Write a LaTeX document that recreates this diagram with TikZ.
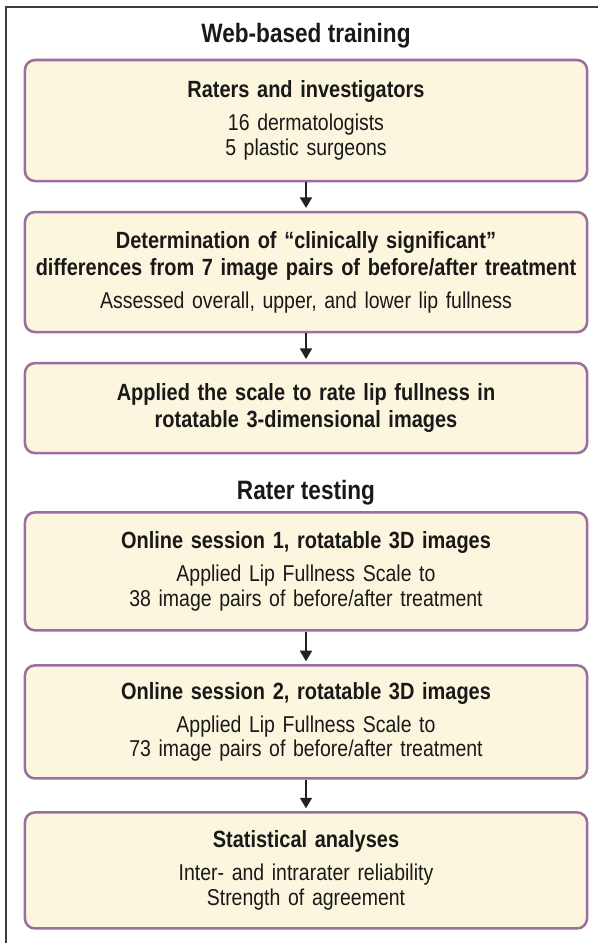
\documentclass[tikz,border=0pt]{standalone}
\usepackage{fontspec}
\setmainfont{Liberation Sans}[FakeStretch=0.85]
\usetikzlibrary{positioning, arrows.meta}

\definecolor{boxfill}{RGB}{252,246,222}
\definecolor{boxline}{RGB}{155,110,160}
\definecolor{arrowgray}{RGB}{34,34,34}
\definecolor{framegray}{RGB}{60,60,60}

\newcommand{\headfont}{\fontsize{18.9}{22}\selectfont\bfseries}
\newcommand{\titlefont}{\fontsize{16.7}{20}\selectfont\bfseries}
\newcommand{\bodyfont}{\fontsize{16.3}{17.5}\selectfont}

\tikzset{
    >={Triangle[length=7.5pt, width=8.5pt]}, % solid triangle heads
    stage/.style={draw=boxline, line width=1.8pt, fill=boxfill, rounded corners=0.25cm,
        text width=13.55cm, inner xsep=0.25cm, inner ysep=0pt, align=center,
        font=\bodyfont, text=black!90},
    heading/.style={font=\headfont, text=black!90},
    flow/.style={->, draw=arrowgray, line width=1.4pt, shorten >=2pt},
}

\begin{document}
\begin{tikzpicture}[x=0.025cm, y=-0.025cm]
    \useasboundingbox (0,0) rectangle (598,943);
    % frame along the top and left
    \draw[framegray, line width=1.4pt] (6,943) -- (6,7) -- (598,7);

    \node[heading] (web) at (306,36) {Web-based training};
    \node[stage, below of=web, node distance=2.1125cm, minimum height=3.025cm] (raters)
        {{\titlefont Raters and investigators}\\[6pt]
         16 dermatologists\\ 5 plastic surgeons};
    \node[stage, below of=raters, node distance=3.7875cm, minimum height=3cm] (determ)
        {{\titlefont Determination of \textquotedblleft clinically significant\textquotedblright}\\[1.5pt]
         {\titlefont differences from 7 image pairs of before/after treatment}\\[6pt]
         Assessed overall, upper, and lower lip fullness};
    \node[stage, below of=determ, node distance=3.4cm, minimum height=2.25cm] (applied)
        {{\titlefont Applied the scale to rate lip fullness in}\\[1.5pt]
         {\titlefont rotatable 3-dimensional images}};

    \node[heading, below of=applied, node distance=2.12cm] (testing) {Rater testing};
    \node[stage, below of=testing, node distance=1.96cm, minimum height=2.95cm] (session1)
        {{\titlefont Online session 1, rotatable 3D images}\\[6pt]
         Applied Lip Fullness Scale to\\ 38 image pairs of before/after treatment};
    \node[stage, below of=session1, node distance=3.7625cm, minimum height=2.825cm] (session2)
        {{\titlefont Online session 2, rotatable 3D images}\\[6pt]
         Applied Lip Fullness Scale to\\ 73 image pairs of before/after treatment};
    \node[stage, below of=session2, node distance=3.7125cm, minimum height=2.9cm] (stats)
        {{\titlefont Statistical analyses}\\[6pt]
         Inter- and intrarater reliability\\ Strength of agreement};

    \draw[flow] (raters) -- (determ);
    \draw[flow] (determ) -- (applied);
    \draw[flow] (session1) -- (session2);
    \draw[flow] (session2) -- (stats);
\end{tikzpicture}
\end{document}
